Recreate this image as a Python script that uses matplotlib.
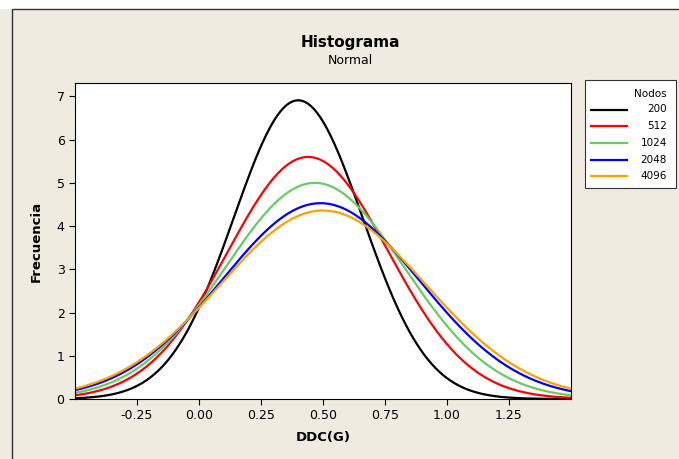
import numpy as np
import matplotlib
matplotlib.use("Agg")
import matplotlib.pyplot as plt
from matplotlib.patches import Rectangle
from matplotlib.lines import Line2D

# Parámetros de las curvas normales ajustadas
nodos = ["200", "512", "1024", "2048", "4096"]
medias = [0.40, 0.44, 0.467, 0.49, 0.50]
desv = [0.26, 0.325, 0.362, 0.398, 0.415]
picos = [6.91, 5.60, 5.00, 4.53, 4.36]
colores = ["#000000", "#FF0000", "#66CC66", "#0000FF", "#FFA000"]

x_ticks = [-0.25, 0.00, 0.25, 0.50, 0.75, 1.00, 1.25]
y_ticks = [0, 1, 2, 3, 4, 5, 6, 7]

fondo = "#EFEBE1"

fig = plt.figure(figsize=(6.79, 4.59), dpi=100, facecolor=fondo)


def fx(px):
    return px / 679


def fy(py):
    return 1 - py / 459


# franja blanca superior y marco exterior
fig.patches.append(Rectangle((0, fy(9)), 1, 9 / 459, transform=fig.transFigure,
                             facecolor="white", edgecolor="none"))
fig.patches.append(Rectangle((fx(12), -0.01), 1.0, fy(9) + 0.01,
                             transform=fig.transFigure, fill=False,
                             edgecolor="#333333", linewidth=1.0))

ax = fig.add_axes([fx(75), fy(399), fx(571) - fx(75), fy(83) - fy(399)])
ax.set_facecolor("white")

x = np.linspace(-0.5, 1.5, 400)
for m, s, a, c in zip(medias, desv, picos, colores):
    y = a * np.exp(-(x - m) ** 2 / (2 * s ** 2))
    ax.plot(x, y, color=c, linewidth=1.6)

ax.set_xlim(-0.5, 1.5)
ax.set_ylim(0, 7.31)
ax.set_xticks(x_ticks)
ax.set_xticklabels([f"{t:.2f}" for t in x_ticks])
ax.set_yticks(y_ticks)
ax.tick_params(direction="out", length=4, labelsize=9, width=0.8)
for sp in ax.spines.values():
    sp.set_linewidth(0.8)

ax.set_xlabel("DDC(G)", fontsize=9.5, fontweight="bold", labelpad=6)
ax.set_ylabel("Frecuencia", fontsize=9.5, fontweight="bold", labelpad=10)

fig.text(fx(350), fy(42), "Histograma", ha="center", va="center",
         fontsize=11, fontweight="bold")
fig.text(fx(350), fy(61), "Normal", ha="center", va="center", fontsize=9)

# Leyenda dibujada a mano (estilo Minitab)
fig.patches.append(Rectangle((fx(585), fy(188)), fx(676) - fx(585),
                             fy(80) - fy(188), transform=fig.transFigure,
                             facecolor="white", edgecolor="#333333",
                             linewidth=0.8))
fig.text(fx(667), fy(94), "Nodos", ha="right", va="center", fontsize=7.5)
for i, (lab, c) in enumerate(zip(nodos, colores)):
    yy = 109.5 + i * 16.7
    fig.lines.append(Line2D([fx(591), fx(627)], [fy(yy), fy(yy)],
                            transform=fig.transFigure, color=c,
                            linewidth=1.6))
    fig.text(fx(667), fy(yy), lab, ha="right", va="center", fontsize=7.5)

fig.savefig("out.png", dpi=100, facecolor=fondo)
